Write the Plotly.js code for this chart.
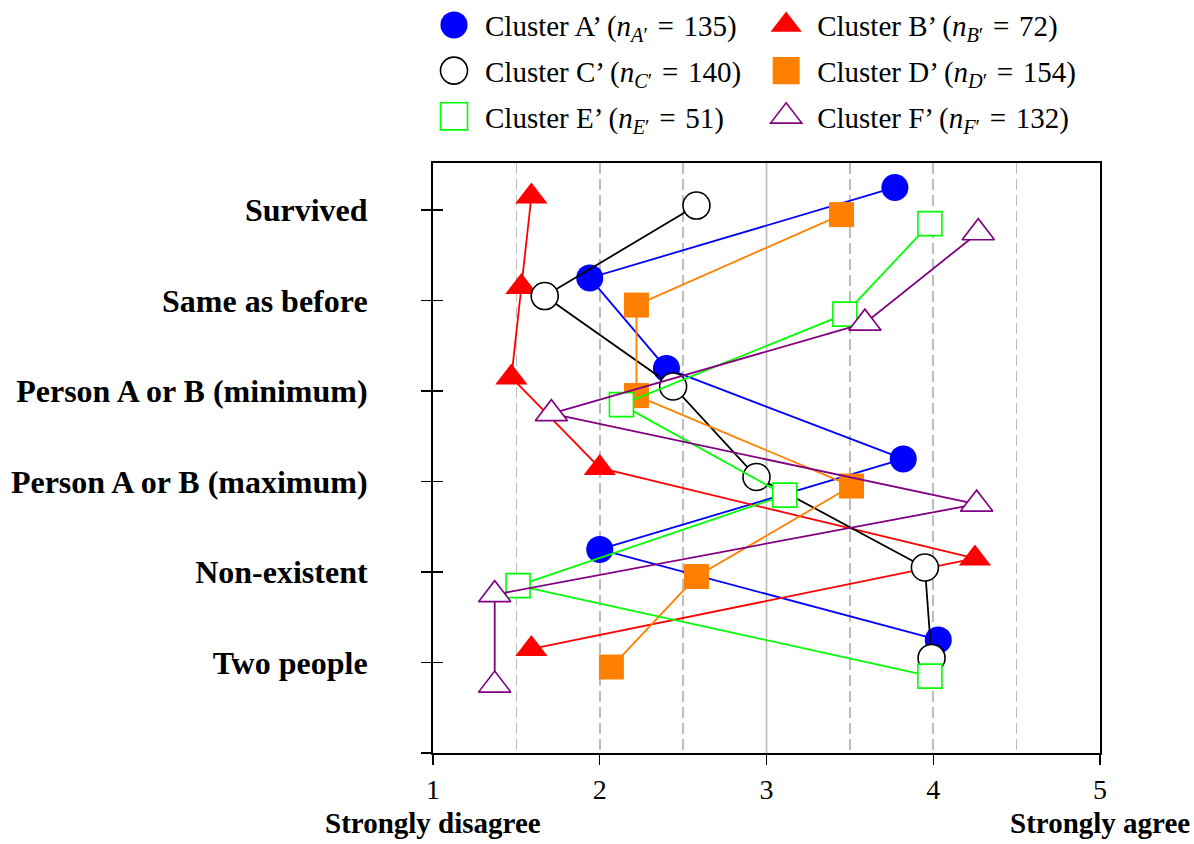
<!DOCTYPE html>
<html><head><meta charset="utf-8">
<script src="https://cdn.plot.ly/plotly-3.0.1.min.js"></script>
<style>body{margin:0;background:#fff}</style>
</head><body><div id="chart" style="width:1194px;height:844px"></div>
<script>
// Categories from bottom to top
const categories = ['Two people','Non-existent','Person A or B (maximum)','Person A or B (minimum)','Same as before','Survived'];
const clusterNames = ['A','B','C','D','E','F'];
const clusterSizes = [135, 72, 140, 154, 51, 132];
// Mean agreement per category (same order as categories)
const clusterA = [4.03, 2.00, 3.82, 2.40, 1.94, 3.77];
const clusterB = [1.59, 4.25, 2.00, 1.47, 1.53, 1.59];
const clusterC = [3.99, 3.95, 2.94, 2.44, 1.67, 2.58];
const clusterD = [2.07, 2.58, 3.51, 2.22, 2.22, 3.45];
const clusterE = [3.98, 1.51, 3.11, 2.13, 3.47, 3.98];
const clusterF = [1.37, 1.37, 4.26, 1.71, 3.59, 4.27];
const xTickVals = [1, 2, 3, 4, 5];
const xTickText = ['1', '2', '3', '4', '5'];
const scaleEnds = ['Strongly disagree', 'Strongly agree'];

const values = [clusterA, clusterB, clusterC, clusterD, clusterE, clusterF];
const offsets = [0.25, 0.15, 0.05, -0.05, -0.15, -0.25];
const styles = [
  {color:'#0000ff', symbol:'circle',      size:27, fill:'#0000ff', lc:'#0000ff', lw:0},
  {color:'#ff0000', symbol:'triangle-up', size:28, fill:'#ff0000', lc:'#ff0000', lw:0},
  {color:'#000000', symbol:'circle',      size:27, fill:'#ffffff', lc:'#000000', lw:1.6},
  {color:'#ff8000', symbol:'square',      size:25, fill:'#ff8000', lc:'#ff8000', lw:0},
  {color:'#00ff00', symbol:'square',      size:24, fill:'#ffffff', lc:'#00ff00', lw:1.6},
  {color:'#800080', symbol:'triangle-up', size:28, fill:'#ffffff', lc:'#800080', lw:1.6}
];
const FONT = 'Liberation Serif, Times New Roman, serif';

const data = [];
values.forEach((vals, i) => {
  const s = styles[i];
  data.push({
    type:'scatter', mode:'lines+markers', showlegend:false,
    x: vals, y: vals.map((v, k) => k + 1 + offsets[i]),
    line:{color:s.color, width:1.8},
    marker:{symbol:s.symbol, size:s.size, color:s.fill, line:{color:s.lc, width:s.lw}},
    hoverinfo:'skip'
  });
});
values.forEach((vals, i) => {
  const s = styles[i];
  const n = clusterNames[i];
  data.push({
    type:'scatter', mode:'markers', x:[null], y:[null],
    name: 'Cluster ' + n + '’ (<i>n</i><sub><i>' + n + '</i>′</sub>\u2004=\u2004' + clusterSizes[i] + ')',
    legend: i % 2 === 0 ? 'legend' : 'legend2',
    legendgroup: 'g' + i,
    marker:{symbol:s.symbol, size:16, color:s.fill, line:{color:s.lc, width:s.lw}}
  });
});
// carrier for the inner half of the crossing y ticks
data.push({type:'scatter', mode:'markers', x:[null], y:[null], yaxis:'y2', showlegend:false, hoverinfo:'skip'});

const legendBase = {
  yanchor:'top', xanchor:'left', y:1.277,
  font:{family:FONT, size:29, color:'#000'},
  itemwidth:52, tracegroupgap:5, bgcolor:'rgba(0,0,0,0)', borderwidth:0
};

const yVals = [0].concat(categories.map((c, k) => k + 1));
const yText = [''].concat(categories.map(c => '<b>' + c + '</b>'));

const layout = {
  width:1194, height:844,
  margin:{l:433, r:94, t:163, b:91, autoexpand:false},
  paper_bgcolor:'#fff', plot_bgcolor:'#fff',
  font:{family:FONT, color:'#000'},
  xaxis:{
    range:[1, 5], tickvals:xTickVals, ticktext:xTickText,
    ticks:'outside', ticklen:10, tickwidth:1.3, tickcolor:'#000',
    tickfont:{family:FONT, size:28, color:'#000'},
    showline:true, mirror:true, linecolor:'#000', linewidth:2,
    showgrid:true, gridcolor:'#bdbdbd', gridwidth:1.7, griddash:'11px,5px',
    minor:{dtick:0.5, tick0:0, showgrid:true, gridcolor:'#bdbdbd', gridwidth:1.7, griddash:'11px,5px', ticks:''},
    zeroline:false, fixedrange:true
  },
  yaxis:{
    range:[0, 6.52], tickvals:yVals, ticktext:yText,
    ticks:'outside', ticklen:10, tickwidth:1.3, tickcolor:'#000',
    tickfont:{family:FONT, size:32, color:'#000'},
    ticklabelstandoff:47,
    showline:true, mirror:true, linecolor:'#000', linewidth:2,
    showgrid:false, zeroline:false, fixedrange:true
  },
  yaxis2:{
    overlaying:'y', side:'left', range:[0, 6.52], tickvals:yVals,
    ticks:'inside', ticklen:10, tickwidth:1.3, tickcolor:'#000',
    showline:false, showgrid:false, zeroline:false, showticklabels:false, fixedrange:true
  },
  shapes:[{type:'line', xref:'x', yref:'paper', x0:3, x1:3, y0:0, y1:1, layer:'between',
           line:{color:'#bdbdbd', width:1.7}}],
  legend: Object.assign({x:-0.015}, legendBase),
  legend2: Object.assign({x:0.483}, legendBase),
  annotations:[
    {xref:'x', yref:'paper', x:xTickVals[0], y:-0.119, text:'<b>' + scaleEnds[0] + '</b>', showarrow:false,
     xanchor:'center', yanchor:'middle', font:{family:FONT, size:29, color:'#000'}},
    {xref:'x', yref:'paper', x:xTickVals[xTickVals.length-1], y:-0.119, text:'<b>' + scaleEnds[1] + '</b>', showarrow:false,
     xanchor:'center', yanchor:'middle', font:{family:FONT, size:29, color:'#000'}}
  ]
};

Plotly.newPlot('chart', data, layout, {staticPlot:true, displayModeBar:false}).then(() => {
  document.querySelectorAll('.infolayer .scatterpts').forEach(p => {
    const t = p.getAttribute('transform') || '';
    p.setAttribute('transform', t + ' scale(1.69)');
    p.style.vectorEffect = 'non-scaling-stroke';
  });
});
</script>
</body></html>
